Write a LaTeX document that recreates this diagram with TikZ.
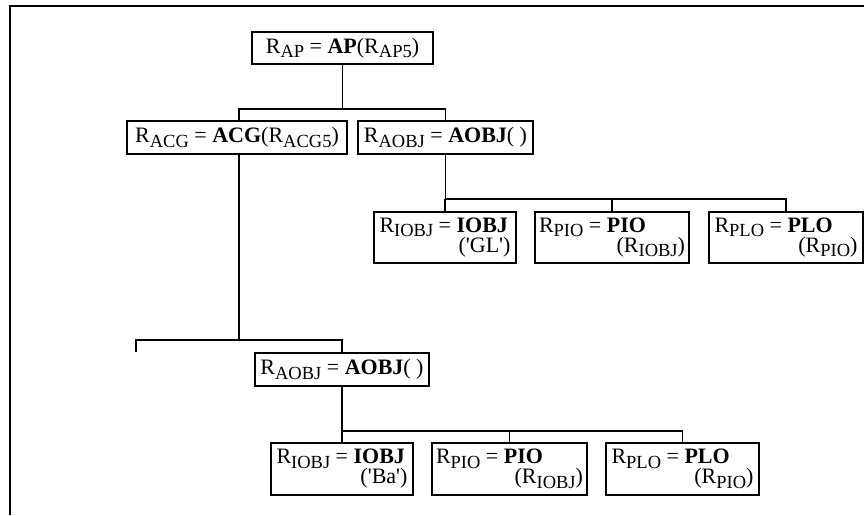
\documentclass[tikz,border=0pt]{standalone}
\usepackage{fontspec}
\setmainfont{Liberation Serif}
\newfontfamily\plainq[Ligatures=TeXOff]{Liberation Serif}
\newcommand{\sbs}[1]{\raisebox{-4.5pt}{\fontsize{18.5}{18}\selectfont #1}}
\newcommand{\twol}[3]{\parbox{#1}{\raggedright #2\\[-3pt]\hspace*{\fill}#3}}
\newcommand{\sq}{{\plainq\symbol{39}}}
\tikzset{
  x=1pt, y=-1pt,
  box/.style={draw, line width=1.5pt, inner sep=0pt, align=center,
    font=\fontsize{22}{23}\selectfont},
  conn/.style={line width=1.2pt},
  frame/.style={line width=1.6pt}
}
\begin{document}
\begin{tikzpicture}
\useasboundingbox (0,0) rectangle (864,515);
% frame (only top and left edges visible)
\draw[frame] (10,515) -- (10,6) -- (864,6);

% boxes
\node[box, minimum width=181pt, minimum height=32pt] (AP) at (342.5,48)
  {R\sbs{AP} = \textbf{AP}(R\sbs{AP5})};
\node[box, minimum width=220pt, minimum height=33pt] (ACG) at (237,137.5)
  {R\sbs{ACG} = \textbf{ACG}(R\sbs{ACG5})};
\node[box, minimum width=175pt, minimum height=33pt] (AOBJa) at (445.5,137.5)
  {R\sbs{AOBJ} = \textbf{AOBJ}( )};
\node[box, minimum width=142pt, minimum height=51pt] (IOBJa) at (445,237.5)
  {\twol{131pt}{R\sbs{IOBJ} = \textbf{IOBJ}}{(\sq GL\sq)}};
\node[box, minimum width=154pt, minimum height=51pt] (PIOa) at (612,237.5)
  {\twol{146pt}{R\sbs{PIO} = \textbf{PIO}}{(R\sbs{IOBJ})}};
\node[box, minimum width=154pt, minimum height=51pt] (PLOa) at (786,237.5)
  {\twol{143pt}{R\sbs{PLO} = \textbf{PLO}}{(R\sbs{PIO})}};

\node[box, minimum width=174pt, minimum height=33pt] (AOBJb) at (342,369.5)
  {R\sbs{AOBJ} = \textbf{AOBJ}( )};
\node[box, minimum width=142pt, minimum height=52pt] (IOBJb) at (342,469)
  {\twol{131pt}{R\sbs{IOBJ} = \textbf{IOBJ}}{(\sq Ba\sq)}};
\node[box, minimum width=155pt, minimum height=52pt] (PIOb) at (509.5,469)
  {\twol{147pt}{R\sbs{PIO} = \textbf{PIO}}{(R\sbs{IOBJ})}};
\node[box, minimum width=153pt, minimum height=52pt] (PLOb) at (682.5,469)
  {\twol{142pt}{R\sbs{PLO} = \textbf{PLO}}{(R\sbs{PIO})}};

% connectors
\coordinate (b1) at (342.5,109);
\draw[conn] (AP.south) -- (b1);
\draw[conn] ([xshift=2pt]ACG.north) |- (b1) -| (AOBJa.north);

\coordinate (b2) at (239,340);
\coordinate (stub) at (136,352);
\draw[conn] ([xshift=2pt]ACG.south) -- (b2);
\draw[conn] (stub) |- (b2) -| (AOBJb.north);

\coordinate (b3) at (445.5,199);
\draw[conn] (AOBJa.south) -- (b3) -| (PLOa.north);
\draw[conn] (IOBJa.north) -- (IOBJa.north |- b3);
\draw[conn] (PIOa.north) -- (PIOa.north |- b3);

\coordinate (b4) at (342,431);
\draw[conn] (AOBJb.south) -- (b4) -| (PLOb.north);
\draw[conn] (IOBJb.north) -- (IOBJb.north |- b4);
\draw[conn] (PIOb.north) -- (PIOb.north |- b4);
\end{tikzpicture}
\end{document}
